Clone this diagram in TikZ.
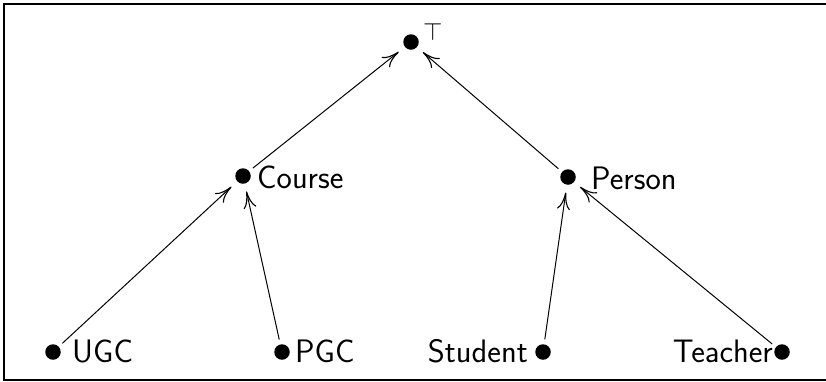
\documentclass[tikz,border=0pt]{standalone}
\usetikzlibrary{arrows.meta}
\begin{document}
\begin{tikzpicture}[x=1pt,y=-1pt,
  dot/.style={circle,fill=black,inner sep=0pt,minimum size=15.5pt,outer sep=0pt},
  lbl/.style={inner sep=0pt,font=\fontsize{32.5}{38}\selectfont\sffamily},
  isa/.style={line width=1pt,-{Computer Modern Rightarrow[length=17pt,width=13pt,line width=1.1pt]},shorten <=5pt,shorten >=8pt}]
\useasboundingbox (0,0) rectangle (826,381);
\draw[line width=2pt] (4,4) rectangle (829,379.5);
% dots
\node[dot] (top) at (411,42) {};
\node[dot] (course) at (243,176) {};
\node[dot] (person) at (568,177) {};
\node[dot] (ugc) at (53,352) {};
\node[dot] (pgc) at (282,352) {};
\node[dot] (student) at (543,352) {};
\node[dot] (teacher) at (782,352) {};
% labels
\node[lbl,anchor=base west] (ltop) at (423,40) {$\top$};
\node[lbl,anchor=base west] (lcourse) at (257,188) {Course};
\node[lbl,anchor=base west] (lperson) at (591,189) {Person};
\node[lbl,anchor=base west] (lugc) at (72,362) {UGC};
\node[lbl,anchor=base west] (lpgc) at (295,362) {PGC};
\node[lbl,anchor=base east] (lstudent) at (528,362) {Student};
\node[lbl,anchor=base east] (lteacher) at (773,362) {Teacher};
% connectors
\draw[isa] (ugc) -- (course);
\draw[isa] (pgc) -- (course);
\draw[isa] (course) -- (top);
\draw[isa] (person) -- (top);
\draw[isa] (student) -- (person);
\draw[isa] (teacher) -- (person);
\end{tikzpicture}
\end{document}
